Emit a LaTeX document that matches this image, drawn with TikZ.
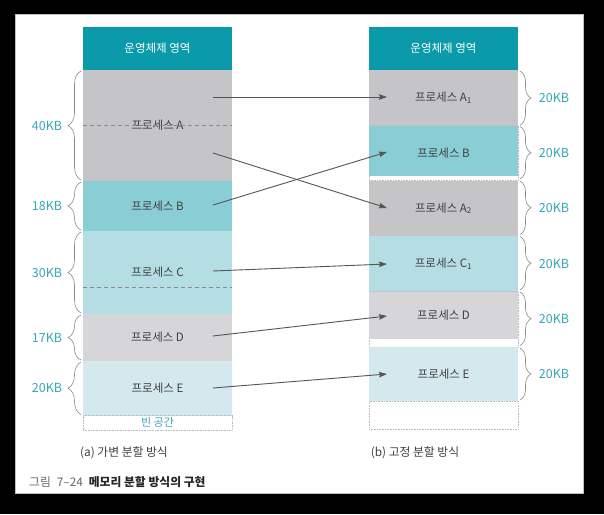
\documentclass[tikz,border=0pt]{standalone}
\usepackage{fontspec}
\setmainfont{Noto Sans CJK KR}
\usetikzlibrary{decorations.pathreplacing,arrows.meta}
\definecolor{osteal}{HTML}{0A9AAA}
\definecolor{pgray}{HTML}{C5C5C7}
\definecolor{pteal}{HTML}{89CDD5}
\definecolor{pltteal}{HTML}{B5DEE4}
\definecolor{plgray}{HTML}{D6D6D8}
\definecolor{pxlt}{HTML}{D3E9EE}
\definecolor{kbteal}{HTML}{35A8B8}
\definecolor{txt}{HTML}{404040}
\definecolor{brc}{HTML}{8A8A8A}
\definecolor{arrc}{HTML}{555555}
\definecolor{dotc}{HTML}{BBBBBB}
\definecolor{figgray}{HTML}{666666}
\begin{document}
\begin{tikzpicture}[x=1pt,y=-1pt,
  box/.style={minimum width=149pt,inner sep=0pt,outer sep=0pt,text=txt,font=\fontsize{11.5}{13}\selectfont},
  osbox/.style={box,fill=osteal,text=white},
  dotbox/.style={box,fill=white,draw=dotc,densely dotted,line width=0.6pt},
  dashline/.style={draw=brc,dash pattern=on 4pt off 3pt,line width=0.7pt},
  arr/.style={draw=arrc,line width=0.9pt,-{Stealth[length=8pt,width=5.5pt,inset=1pt]}},
  bracel/.style={draw=brc,line width=0.6pt,decorate,decoration={brace,amplitude=13pt}},
  bracer/.style={draw=brc,line width=0.6pt,decorate,decoration={brace,amplitude=11pt}},
  kb/.style={text=kbteal,font=\fontsize{12.5}{14}\selectfont,inner sep=0pt},
  captext/.style={text=txt,font=\fontsize{11.8}{14}\selectfont,inner sep=0pt}]
\useasboundingbox (0,0) rectangle (604,514);
\fill[black] (0,0) rectangle (604,514);
\filldraw[fill=white,draw=gray!50,line width=0.6pt] (15,14) rectangle (583,493);

% left column
\node[osbox,minimum height=43pt] (los) at (157.5,48.5) {운영체제 영역};
\node[box,fill=pgray,minimum height=111pt] (la) at (157.5,125.5) {프로세스 A};
\node[box,fill=pteal,minimum height=50pt] (lb) at (157.5,206) {프로세스 B};
\node[box,fill=pltteal,minimum height=83pt] (lc) at (157.5,272.5) {프로세스 C};
\node[box,fill=plgray,minimum height=47pt] (ld) at (157.5,337.5) {프로세스 D};
\node[box,fill=pxlt,minimum height=54.5pt] (le) at (157.5,388.25) {프로세스 E};
\node[dotbox,minimum height=14.5pt,text=kbteal,font=\fontsize{11}{12}\selectfont] (lfree) at (157.5,422.75) {빈 공간};
\draw[dashline] (83,125) -- (232,125);
\draw[dashline] (83,287) -- (232,287);

% right column
\node[osbox,minimum height=43pt] (ros) at (443.5,48.5) {운영체제 영역};
\node[box,fill=pgray,minimum height=55.5pt] (ra1) at (443.5,97.75) {프로세스 A\textsubscript{1}};
\node[dotbox,minimum height=55pt] (rpb) at (443.5,153) {};
\node[box,fill=pteal,minimum height=50.5pt] (rb) at (443.5,150.75) {};
\node[box] (rbt) at (443.5,153) {프로세스 B};
\node[box,fill=pgray,minimum height=55.5pt] (ra2) at (443.5,208.25) {프로세스 A\textsubscript{2}};
\node[box,fill=pltteal,minimum height=55.5pt] (rc1) at (443.5,263.75) {프로세스 C\textsubscript{1}};
\node[dotbox,minimum height=55.5pt] (rpd) at (443.5,319.25) {};
\node[box,fill=plgray,minimum height=47.5pt] (rd) at (443.5,315.25) {프로세스 D};
\node[box,fill=pxlt,minimum height=54pt] (re) at (443.5,374) {프로세스 E};
\node[dotbox,minimum height=28pt] (rfree) at (443.5,415) {};

% arrows
\coordinate (s1) at (213,97);  \coordinate (e1) at (387,97);
\coordinate (s2) at (213,153); \coordinate (e2) at (387,208);
\coordinate (s3) at (213,205); \coordinate (e3) at (387,152);
\coordinate (s4) at (213,271); \coordinate (e4) at (387,264);
\coordinate (s5) at (213,336); \coordinate (e5) at (387,316);
\coordinate (s6) at (213,388); \coordinate (e6) at (387,374);
\draw[arr] (s1) -- (e1);
\draw[arr] (s2) -- (e2);
\draw[arr] (s3) -- (e3);
\draw[arr] (s4) -- (e4);
\draw[arr] (s5) -- (e5);
\draw[arr] (s6) -- (e6);

% left braces
\draw[bracel] (81,180) -- (81,71);
\draw[bracel] (81,230) -- (81,182);
\draw[bracel] (81,313) -- (81,232);
\draw[bracel] (81,360) -- (81,315);
\draw[bracel] (81,414.5) -- (81,362);
\node[kb] (k1) at (47,125.5) {40KB};
\node[kb] (k2) at (47,206) {18KB};
\node[kb] (k3) at (47,272.5) {30KB};
\node[kb] (k4) at (47,337.5) {17KB};
\node[kb] (k5) at (47,388) {20KB};

% right braces
\draw[bracer] (520,71) -- (520,125);
\draw[bracer] (520,126.5) -- (520,179);
\draw[bracer] (520,181) -- (520,234.5);
\draw[bracer] (520,236.5) -- (520,290);
\draw[bracer] (520,292) -- (520,345.5);
\draw[bracer] (520,348) -- (520,400);
\node[kb] (r1) at (554,98) {20KB};
\node[kb] (r2) at (554,153) {20KB};
\node[kb] (r3) at (554,208) {20KB};
\node[kb] (r4) at (554,263.5) {20KB};
\node[kb] (r5) at (554,319) {20KB};
\node[kb] (r6) at (554,374) {20KB};

% captions
\node[captext] (capa) at (124,453) {(a) 가변 분할 방식};
\node[captext] (capb) at (415,453) {(b) 고정 분할 방식};
\node[captext,anchor=west] (fig) at (29,482) {{\color{figgray}그림\hspace{6pt}7–24}\hspace{6pt}{\bfseries\color{black!85}메모리 분할 방식의 구현}};
\end{tikzpicture}
\end{document}
